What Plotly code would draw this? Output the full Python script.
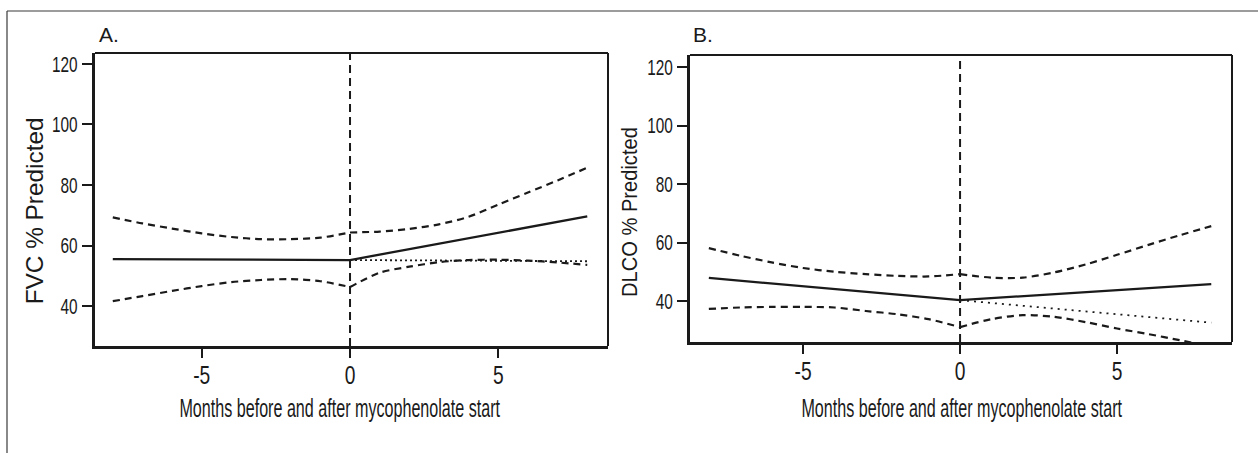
import plotly.graph_objects as go

# ---- data -------------------------------------------------------------
# fitted trend (straight segments before / after mycophenolate start)
trend_x_pre = [-8, 0]
trend_x_post = [0, 8]
fvc_trend_pre = [55.5, 55.2]
fvc_trend_post = [55.2, 69.6]
fvc_expected = [55.2, 54.8]          # pre-start trend carried forward
dlco_trend_pre = [47.9, 40.3]
dlco_trend_post = [40.3, 45.8]
dlco_expected = [40.3, 32.6]

# confidence bands, read monthly
band_x_pre = [-8, -7, -6, -5, -4, -3, -2, -1, 0]
band_x_post = [0, 1, 2, 3, 4, 5, 6, 7, 8]
fvc_upper_pre = [69.3, 67.3, 65.6, 64.0, 62.8, 62.1, 62.1, 62.6, 64.3]
fvc_lower_pre = [41.6, 43.3, 45.0, 46.6, 47.9, 48.6, 48.9, 48.2, 46.3]
fvc_upper_post = [64.3, 64.6, 65.5, 67.0, 69.5, 73.5, 77.5, 81.5, 85.7]
fvc_lower_post = [46.3, 51.0, 53.0, 54.5, 55.2, 55.3, 55.0, 54.4, 53.6]
dlco_upper_pre = [58.1, 55.5, 53.2, 51.3, 50.0, 49.2, 48.6, 48.4, 49.2]
dlco_lower_pre = [37.3, 37.8, 38.0, 38.0, 37.8, 36.6, 35.5, 33.8, 31.1]
dlco_upper_post = [49.2, 48.0, 48.0, 49.8, 52.5, 55.8, 59.2, 62.5, 65.6]
dlco_lower_post = [31.1, 33.8, 35.2, 34.6, 32.8, 30.6, 28.7, 26.6, 24.5]

x_ticks = [-5, 0, 5]
y_ticks = [40, 60, 80, 100, 120]
x_title = "Months before and after mycophenolate start"
panel_titles = ["A.", "B."]
y_titles = ["FVC % Predicted", "DLCO % Predicted"]

# ---- styling ------------------------------------------------------------
W, H = 1258, 453
INK = "#1a1a1a"
ARIAL = "Liberation Sans, Arial, Helvetica, sans-serif"


def px(x):
    return x / W


def py(y):
    return 1 - y / H


fig = go.Figure()


def add_panel(xa, ya, tpre, tpost, exp, upre, lpre, upost, lpost, dot):
    common = dict(xaxis=xa, yaxis=ya, mode="lines", showlegend=False, hoverinfo="skip")
    solid = dict(color=INK, width=2.3)
    dashed = dict(color=INK, width=2.2, dash="7px,5px", shape="spline", smoothing=0.8)
    fig.add_trace(go.Scatter(x=trend_x_pre, y=tpre, line=solid, **common))
    fig.add_trace(go.Scatter(x=trend_x_post, y=tpost, line=solid, **common))
    fig.add_trace(go.Scatter(x=trend_x_post, y=exp,
                             line=dict(color=INK, width=1.8, dash=dot), **common))
    for xs, ys in ((band_x_pre, upre), (band_x_pre, lpre),
                   (band_x_post, upost), (band_x_post, lpost)):
        fig.add_trace(go.Scatter(x=xs, y=ys, line=dashed, **common))


add_panel("x", "y", fvc_trend_pre, fvc_trend_post, fvc_expected,
          fvc_upper_pre, fvc_lower_pre, fvc_upper_post, fvc_lower_post, "2px,3px")
add_panel("x2", "y2", dlco_trend_pre, dlco_trend_post, dlco_expected,
          dlco_upper_pre, dlco_lower_pre, dlco_upper_post, dlco_lower_post, "2px,5px")

# plot-area boxes in pixels: left, right, top, bottom
boxes = [(95, 608, 53, 346), (690, 1232, 55, 342)]
x_ranges = [[-8.6, 8.7], [-8.6, 8.66]]
y_ranges = [[26.8, 123.6], [26.0, 124.1]]
axis_w = [3, 2.5]

layout = dict(
    width=W, height=H,
    margin=dict(l=0, r=0, t=0, b=0),
    paper_bgcolor="white", plot_bgcolor="white",
    showlegend=False,
)
for i, (l, r, t, b) in enumerate(boxes):
    sx = "" if i == 0 else "2"
    layout["xaxis" + sx] = dict(
        domain=[px(l), px(r)], range=x_ranges[i], anchor="y" + sx,
        tickvals=x_ticks, ticktext=[str(v) for v in x_ticks],
        ticks="outside", ticklen=9, tickwidth=2, tickcolor=INK,
        ticklabelstandoff=-5,
        showline=True, linewidth=axis_w[i], linecolor=INK,
        showgrid=False, zeroline=False, automargin=False,
        tickfont=dict(family=ARIAL, size=26, color=INK),
    )
    layout["yaxis" + sx] = dict(
        domain=[py(b), py(t)], range=y_ranges[i], anchor="x" + sx,
        tickvals=y_ticks, ticktext=[str(v) for v in y_ticks],
        ticks="outside", ticklen=10, tickwidth=2, tickcolor=INK,
        showline=True, linewidth=axis_w[i], linecolor=INK,
        showgrid=False, zeroline=False, automargin=False,
        tickfont=dict(family=ARIAL, size=22, color=INK),
    )
fig.update_layout(**layout)

shapes = []
for i in range(2):
    sx = "" if i == 0 else "2"
    xr, yr = "x" + sx + " domain", "y" + sx + " domain"
    # top and right edges of the box
    shapes.append(dict(type="line", xref=xr, yref=yr, x0=0, x1=1, y0=1, y1=1,
                       line=dict(color=INK, width=2)))
    shapes.append(dict(type="line", xref=xr, yref=yr, x0=1, x1=1, y0=0, y1=1,
                       line=dict(color=INK, width=2)))
    # vertical marker at treatment start
    shapes.append(dict(type="line", xref="x" + sx, yref=yr, x0=0, x1=0, y0=0, y1=1,
                       line=dict(color=INK, width=2, dash="8px,5px")))
# outer frame (top and left edges)
shapes.append(dict(type="line", xref="paper", yref="paper",
                   x0=px(7), x1=1, y0=py(11), y1=py(11),
                   line=dict(color="#3a3a3a", width=1.2)))
shapes.append(dict(type="line", xref="paper", yref="paper",
                   x0=px(7), x1=px(7), y0=0, y1=py(11),
                   line=dict(color="#3a3a3a", width=1.2)))
fig.update_layout(shapes=shapes)

annotations = []
# panel letters
for (x, y), txt in zip([(97, 35), (691, 35)], panel_titles):
    annotations.append(dict(text=txt, xref="paper", yref="paper", x=px(x), y=py(y),
                            xanchor="left", yanchor="middle", showarrow=False,
                            font=dict(family=ARIAL, size=21, color=INK)))
# y-axis titles
for (x, y), txt, size in zip([(35, 211), (630, 212)], y_titles, [23.5, 22]):
    annotations.append(dict(text=txt, xref="paper", yref="paper", x=px(x), y=py(y),
                            xanchor="center", yanchor="middle", textangle=-90,
                            showarrow=False, font=dict(family=ARIAL, size=size, color=INK)))
# x-axis titles
for x in (340, 962):
    annotations.append(dict(text=x_title, xref="paper", yref="paper", x=px(x), y=py(408),
                            xanchor="center", yanchor="middle", showarrow=False,
                            font=dict(family=ARIAL, size=25, color=INK)))
fig.update_layout(annotations=annotations)

# The labels use a tall, compressed face: scale each text element along its
# own baseline about its anchor point (x attribute), keeping the glyph height.
squeeze_js = """
function squeeze(nodes, f) {
  nodes.forEach(function (t) {
    var w = t.getComputedTextLength();
    if (!w) { return; }
    var target = (typeof f === 'function') ? f(t, w) : w * f;
    var s = target / w;
    var ax = parseFloat(t.getAttribute('x')) || 0;
    var old = t.getAttribute('transform') || '';
    t.setAttribute('transform', (old + ' translate(' + ax + ',0) scale(' +
                   s.toFixed(4) + ',1) translate(' + (-ax) + ',0)').trim());
  });
}
var root = document.getElementById('{plot_id}');
squeeze(root.querySelectorAll('.xtick text, .x2tick text'), 0.74);
squeeze(root.querySelectorAll('.ytick text, .y2tick text'), 0.7);
var widths = {
  'Months before and after mycophenolate start': 321,
  'FVC % Predicted': 187,
  'DLCO % Predicted': 170
};
squeeze(root.querySelectorAll('.annotation-text'), function (t, w) {
  var key = t.textContent;
  return widths.hasOwnProperty(key) ? widths[key] : w;
});
"""

fig.write_html("out.html", post_script=squeeze_js)
